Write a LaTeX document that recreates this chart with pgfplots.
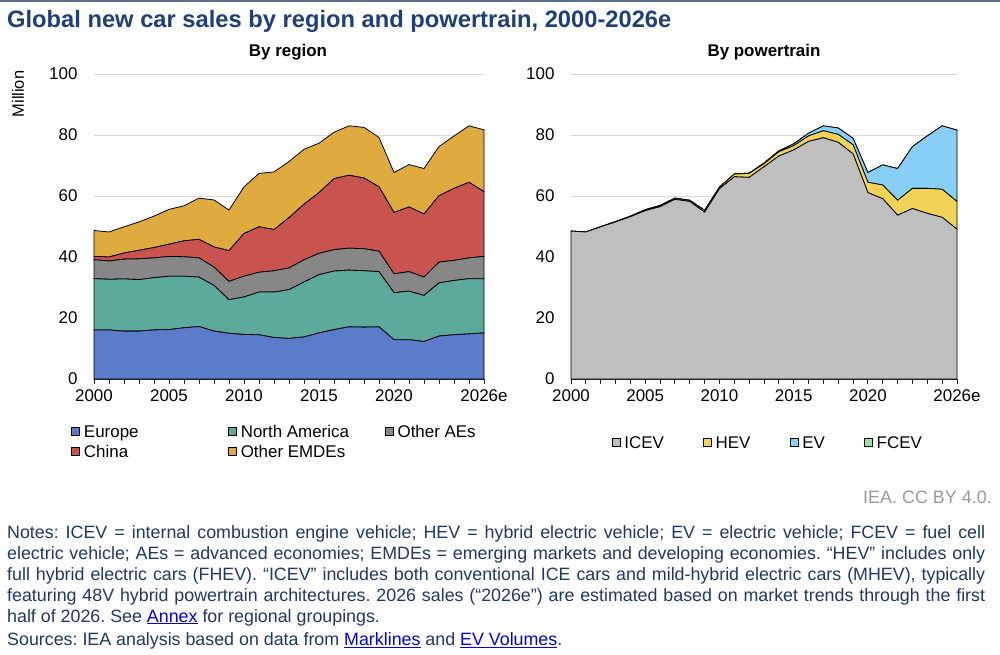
\documentclass[border=0pt]{standalone}
\usepackage{fontspec}
\setmainfont{Liberation Sans}
\usepackage{pgfplots}
\pgfplotsset{compat=1.18}
\usepackage{pgfplotstable}
\definecolor{cEU}{HTML}{5B7BCB}
\definecolor{cNA}{HTML}{5CAA9C}
\definecolor{cAE}{HTML}{878787}
\definecolor{cCN}{HTML}{C9544E}
\definecolor{cEM}{HTML}{DFAA3E}
\definecolor{cICE}{HTML}{BFBFBF}
\definecolor{cHEV}{HTML}{F1D457}
\definecolor{cEV}{HTML}{87CFF6}
\definecolor{cFC}{HTML}{98E39B}
\definecolor{cTitle}{HTML}{1F3F78}
\definecolor{cNote}{HTML}{1F3864}
\definecolor{cRule}{HTML}{5E6E8E}
\definecolor{cLink}{HTML}{0000EE}
\frenchspacing

\pgfplotstableread{
year eu na ae cn em
2000 16.1 16.8 6.2 1.1 8.5
2001 16.1 16.6 6.0 1.3 8.2
2002 15.7 17.1 6.5 2.0 8.6
2003 15.7 16.9 6.8 2.8 9.3
2004 16.1 17.1 6.5 3.4 10.3
2005 16.2 17.5 6.5 4.0 11.4
2006 16.8 16.9 6.4 5.2 11.5
2007 17.2 16.2 6.3 6.1 13.5
2008 15.7 15.0 6.0 6.6 15.4
2009 15.0 11.0 6.0 10.1 13.3
2010 14.6 12.3 6.8 14.0 15.3
2011 14.5 14.0 6.5 14.9 17.5
2012 13.6 14.9 7.0 13.5 18.9
2013 13.3 16.0 7.1 16.5 18.4
2014 13.8 18.0 7.3 18.2 18.0
2015 15.1 19.1 7.0 19.9 16.2
2016 16.2 19.2 7.0 23.3 15.2
2017 17.1 18.6 7.2 23.9 16.2
2018 17.0 18.5 7.2 23.2 16.6
2019 17.1 18.1 6.7 21.1 16.2
2020 12.9 15.4 6.2 20.1 13.1
2021 12.9 15.9 6.4 21.2 13.9
2022 12.3 15.1 6.0 20.7 14.9
2023 14.1 17.4 6.8 21.8 16.1
2024 14.5 17.8 6.6 23.6 17.2
2025 14.8 18.1 6.8 24.8 18.5
2026 15.1 17.8 7.3 21.2 20.3
}\regiondata

\pgfplotstableread{
year ice hev ev fc
2000 48.5 0.0 0.0 0.0
2001 48.2 0.0 0.0 0.0
2002 49.9 0.05 0.0 0.0
2003 51.5 0.1 0.0 0.0
2004 53.2 0.2 0.0 0.0
2005 55.2 0.3 0.0 0.0
2006 56.5 0.4 0.0 0.0
2007 58.9 0.4 0.0 0.0
2008 58.2 0.4 0.0 0.0
2009 54.7 0.6 0.0 0.0
2010 62.4 0.5 0.01 0.0
2011 66.3 0.9 0.05 0.0
2012 66.1 1.3 0.1 0.0
2013 69.6 1.0 0.2 0.0
2014 73.1 1.4 0.3 0.0
2015 75.1 1.4 0.6 0.0
2016 77.9 1.8 0.9 0.0
2017 79.1 2.3 1.6 0.0
2018 77.6 2.6 2.1 0.0
2019 73.8 3.0 2.1 0.01
2020 61.1 3.4 3.2 0.01
2021 59.1 4.5 6.6 0.02
2022 53.7 4.9 10.4 0.02
2023 55.9 6.6 13.7 0.02
2024 54.3 8.2 17.2 0.02
2025 53.0 9.2 20.8 0.02
2026 49.1 9.1 23.4 0.02
}\ptdata

\pgfplotsset{
  chart/.style={
    scale only axis, height=305bp,
    xmin=2000, xmax=2026, ymin=0, ymax=100,
    ytick={0,20,...,100},
    xtick={2000,2005,2010,2015,2020,2026},
    xticklabels={2000,2005,2010,2015,2020,2026e},
    minor xtick={2000,...,2026},
    tick align=outside,
    major tick length=5bp, minor tick length=5bp,
    axis x line*=bottom, axis y line*=left,
    y axis line style={draw=none},
    ytick style={draw=none},
    x axis line style={draw=black!85, line width=1bp},
    xtick style={draw=black!85, line width=0.9bp},
    ymajorgrids, grid style={color=black!15, line width=0.9bp},
    tick label style={font=\fontsize{17}{20}\selectfont, text=black},
    /pgf/number format/assume math mode=true,
    yticklabel style={xshift=-8bp},
    xticklabel style={yshift=-2bp},
    stack plots=y,
    clip=false,
    legend image code/.code={\draw[##1, draw=black, line width=0.8bp] (0bp,-4bp) rectangle (8bp,4bp);},
  },
  ar/.style={draw=black, line width=0.8bp},
}
\newcommand\jline[1]{\makebox[978bp][s]{#1}}

\begin{document}
\begin{tikzpicture}[font=\fontsize{17}{20}\selectfont]
\path[use as bounding box] (0,0) rectangle (1000bp,-655bp);
\draw[color=cRule, line width=1.5bp] (0,-0.75bp) -- (1000bp,-0.75bp);
\node[anchor=west, text=cTitle, font=\fontsize{23.8}{27}\selectfont\bfseries, inner sep=0pt] at (7bp,-21bp) {Global new car sales by region and powertrain, 2000-2026e};
\node[font=\fontsize{17}{20}\selectfont\bfseries, inner sep=0pt] at (288bp,-52bp) {By region};
\node[font=\fontsize{17}{20}\selectfont\bfseries, inner sep=0pt] at (764bp,-52bp) {By powertrain};
\node[rotate=90, inner sep=0pt, font=\fontsize{16.5}{20}\selectfont] at (18bp,-94bp) {Million};

\begin{axis}[chart, at={(94bp,-379bp)}, anchor=south west, width=390bp,
  legend columns=3,
  legend style={at={(axis description cs:-0.059,-0.145)}, anchor=north west, draw=none, fill=none, inner sep=0pt,
    font=\fontsize{17}{20}\selectfont, row sep=4.5bp,
    nodes={inner sep=0pt, outer sep=0pt},
    /tikz/every odd column/.append style={column sep=4bp}},
]
\addplot[ar, fill=cEU] table[x=year, y=eu]{\regiondata} \closedcycle;
\addlegendentry{\makebox[144bp][l]{\strut Europe}}
\addplot[ar, fill=cNA] table[x=year, y=na]{\regiondata} \closedcycle;
\addlegendentry{\makebox[144bp][l]{\strut North America}}
\addplot[ar, fill=cAE] table[x=year, y=ae]{\regiondata} \closedcycle;
\addlegendentry{\makebox[100bp][l]{\strut Other AEs}}
\addplot[ar, fill=cCN] table[x=year, y=cn]{\regiondata} \closedcycle;
\addlegendentry{\makebox[144bp][l]{\strut China}}
\addplot[ar, fill=cEM] table[x=year, y=em]{\regiondata} \closedcycle;
\addlegendentry{\makebox[144bp][l]{\strut Other EMDEs}}
\end{axis}

\begin{axis}[chart, at={(571bp,-379bp)}, anchor=south west, width=386bp,
  legend columns=4,
  legend style={at={(axis description cs:0.507,-0.183)}, anchor=north, draw=none, fill=none, inner sep=0pt,
    font=\fontsize{17}{20}\selectfont,
    nodes={inner sep=0pt, outer sep=0pt},
    /tikz/every odd column/.append style={column sep=4bp},
    /tikz/every even column/.append style={column sep=39bp}},
]
\addplot[ar, fill=cICE] table[x=year, y=ice]{\ptdata} \closedcycle;
\addlegendentry{\strut ICEV}
\addplot[ar, fill=cHEV] table[x=year, y=hev]{\ptdata} \closedcycle;
\addlegendentry{\strut HEV}
\addplot[ar, fill=cEV] table[x=year, y=ev]{\ptdata} \closedcycle;
\addlegendentry{\strut EV}
\addplot[ar, fill=cFC] table[x=year, y=fc]{\ptdata} \closedcycle;
\addlegendentry{\strut FCEV}
\end{axis}

\node[anchor=east, text=black!40, inner sep=0pt, font=\fontsize{18}{20}\selectfont] at (992bp,-497bp) {IEA. CC BY 4.0.};

\begin{scope}[every node/.style={anchor=base west, inner sep=0pt, text=cNote, font=\fontsize{17.9}{21}\selectfont}]
\node at (7bp,-538.5bp) {\jline{Notes: ICEV = internal combustion engine vehicle; HEV = hybrid electric vehicle; EV = electric vehicle; FCEV = fuel cell}};
\node at (7bp,-559bp) {\jline{electric vehicle; AEs = advanced economies; EMDEs = emerging markets and developing economies. “HEV” includes only}};
\node at (7bp,-580bp) {\jline{full hybrid electric cars (FHEV). “ICEV” includes both conventional ICE cars and mild-hybrid electric cars (MHEV), typically}};
\node at (7bp,-601bp) {\jline{featuring 48V hybrid powertrain architectures. 2026 sales (“2026e”) are estimated based on market trends through the first}};
\node at (7bp,-622bp) {half of 2026. See \textcolor{cLink}{\underline{Annex}} for regional groupings.};
\node at (7bp,-645.5bp) {Sources: IEA analysis based on data from \textcolor{cLink}{\underline{Marklines}} and \textcolor{cLink}{\underline{EV Volumes}}.};
\end{scope}
\end{tikzpicture}
\end{document}
